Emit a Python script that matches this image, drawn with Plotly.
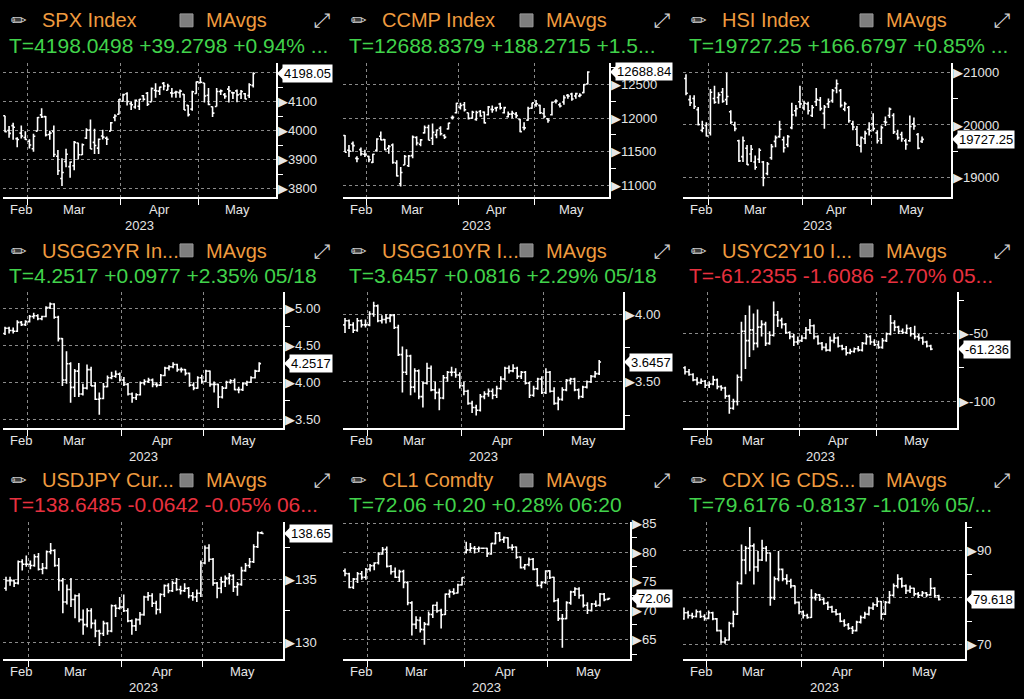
import math
import plotly.graph_objects as go

W, H = 1024, 699
ORANGE = "#EF9B3F"
GREEN = "#41D34B"
RED = "#E8313F"
TXT = "#E6E6E6"
GRID = "#8A8A8A"
FONT = "Arial, Liberation Sans, sans-serif"

month_names = ["Feb", "Mar", "Apr", "May"]
year_text = "2023"

# ---------------- SPX Index ----------------
spx_month_bars = [6, 23, 19, 14]
spx_open = [4052,4001,4018,3973,3992,3977, 3964,3938,3999,4055,4049,3987,3998,3912,3835,3894,3876,3879,3958,3917,3975,4003,3960,3940,3982,3974,3999,4046,4057, 4102,4128,4094,4082,4085,4121,4130,4100,4140,4137,4164,4140,4131,4132,4132,4126,4088,4075,4129, 4166,4165,4123,4083,4084,4136,4125,4144,4132,4138,4127,4128,4122,4157]
spx_high = [4052,4017,4028,3978,4018,3998, 3971,3990,4048,4078,4051,4000,4018,3934,3905,3938,3894,3965,3959,3956,4009,4039,4007,3973,4004,3980,4030,4057,4110, 4128,4133,4100,4108,4110,4124,4134,4150,4164,4152,4169,4163,4148,4138,4143,4127,4089,4138,4170, 4186,4165,4148,4084,4148,4143,4131,4155,4133,4143,4141,4131,4164,4202]
spx_low = [3995,3976,3969,3943,3973,3968, 3939,3928,3999,4044,3980,3969,3909,3847,3809,3874,3838,3864,3901,3916,3972,3937,3920,3920,3970,3951,3999,4033,4056, 4102,4087,4072,4076,4072,4104,4086,4100,4114,4124,4140,4140,4115,4114,4114,4072,4049,4069,4128, 4164,4098,4088,4048,4084,4124,4111,4098,4110,4099,4110,4109,4113,4150]
spx_close = [3997,3991,4012,3970,3982,3970, 3951,3981,4046,4048,3986,3992,3918,3862,3856,3919,3892,3960,3917,3952,4003,3937,3949,3971,3978,3971,4028,4051,4109, 4125,4101,4090,4105,4109,4109,4092,4146,4138,4151,4155,4155,4130,4134,4137,4072,4056,4135,4169, 4168,4120,4091,4061,4136,4138,4119,4138,4131,4124,4136,4110,4159,4198.05]

# ---------------- CCMP Index ----------------
ccmp_month_bars = [6, 23, 19, 14]
ccmp_open = [11740,11520,11620,11400,11530,11460, 11430,11340,11520,11730,11680,11550,11600,11330,11020,11300,11290,11440,11710,11610,11780,11860,11700,11750,11850,11740,11840,12010,12080, 12160,12200,12080,12000,11980,12100,12090,12050,12130,12150,12210,12080,12020,12060,12060,11980,11860,11970,12150, 12200,12190,12070,11990,12050,12250,12200,12240,12340,12360,12330,12330,12380,12510]
ccmp_high = [11750,11600,11650,11430,11560,11530, 11440,11470,11700,11800,11690,11600,11620,11370,11270,11450,11450,11740,11730,11690,11890,11900,11920,11830,11880,11760,11930,12040,12230, 12230,12240,12080,12110,12110,12120,12100,12180,12190,12170,12230,12170,12100,12110,12090,11990,11940,12170,12230, 12270,12200,12150,12000,12250,12280,12230,12340,12360,12380,12380,12370,12510,12700]
ccmp_low = [11490,11420,11500,11340,11440,11420, 11340,11330,11500,11670,11520,11470,11320,11130,10980,11300,11270,11400,11590,11580,11770,11670,11600,11700,11740,11690,11830,11980,12070, 12130,12100,11980,11990,11960,12020,11920,12040,12080,12100,12130,12070,12010,12000,12000,11790,11820,11960,12140, 12170,12060,12000,11930,12040,12220,12160,12200,12290,12260,12290,12310,12370,12500]
ccmp_close = [11492,11507,11590,11395,11467,11456, 11379,11462,11689,11676,11530,11576,11338,11138,11189,11428,11434,11717,11630,11675,11860,11670,11787,11824,11768,11716,11926,12013,12222, 12189,12126,11996,12088,12085,12031,11929,12167,12124,12158,12153,12157,12060,12073,12037,11799,11855,12143,12227, 12213,12081,12025,11967,12236,12256,12180,12306,12329,12285,12366,12344,12500,12688.84]

# ---------------- HSI Index ----------------
hsi_month_bars = [6, 23, 17, 13]
hsi_open = [20880,20480,20500,20290,19900,19990, 19850,20500,20520,20620,20480,20250,20000,19700,19400,19560,19450,19300,19350,19300,19080,19380,19690,19780,19720,19630,19950,20270,20440, 20320,20400,20180,20440,20470,20220,20400,20460,20700,20650,20300,20330,20020,19920,19600,19740,19920, 20020,19850,19740,20060,20180,20180,19830,19820,19700,19700,20020,19820,19690]
hsi_high = [20960,20560,20560,20340,20080,20050, 20680,20740,20620,20700,20990,20280,20060,19720,19780,19620,19620,19420,19560,19320,19300,19640,19800,20080,19780,19810,20420,20380,20740, 20460,20440,20380,20700,20530,20380,20500,20680,20860,20680,20440,20360,20080,19980,19780,19890,20050, 20220,19900,19990,20160,20330,20220,19910,19870,19740,20180,20140,19850,19780]
hsi_low = [20560,20360,20300,19990,19860,19780, 19800,20400,20400,20420,20380,20020,19880,19300,19300,19240,19300,19150,19280,18840,19050,19340,19580,19760,19480,19580,19920,20160,20320, 20280,20200,20150,20360,20270,19930,20320,20420,20600,20330,20260,20040,19900,19600,19480,19640,19800, 19880,19650,19640,19980,20130,19830,19720,19680,19530,19680,19910,19540,19660]
hsi_close = [20600,20420,20350,20010,19940,19790, 20620,20430,20570,20450,20540,20050,19930,19320,19700,19250,19540,19200,19520,19000,19260,19590,19760,19920,19570,19780,20190,20310,20400, 20410,20270,20330,20480,20310,20340,20440,20650,20780,20370,20400,20080,19960,19620,19760,19840,19890, 19930,19700,19950,20050,20300,19870,19760,19740,19630,19970,19980,19560,19727.25]

# ---------------- USGG2YR Index ----------------
us2_month_bars = [6, 23, 20, 14]
us2_open = [4.66,4.73,4.70,4.69,4.81,4.78, 4.82,4.89,4.90,4.86,4.89,5.01,5.06,4.88,4.59,4.03,4.25,3.93,4.15,3.84,3.92,4.17,3.95,3.77,3.78,3.94,4.06,4.08,4.11, 4.03,3.97,3.84,3.79,3.83,3.99,4.01,4.03,3.97,3.96,4.09,4.19,4.21,4.24,4.17,4.17,4.12,3.96,3.92,4.06, 4.01,4.15,3.97,3.97,3.80,3.92,4.00,4.02,3.90,3.90,3.98,4.00,4.06,4.15]
us2_high = [4.75,4.75,4.74,4.84,4.83,4.84, 4.91,4.94,4.92,4.90,5.03,5.08,5.07,4.90,4.60,4.42,4.27,4.18,4.26,3.98,4.24,4.21,4.00,3.86,3.99,4.09,4.14,4.16,4.13, 4.07,3.99,3.86,3.85,4.01,4.04,4.06,4.05,4.00,4.11,4.21,4.23,4.27,4.25,4.20,4.18,4.13,4.00,4.08,4.10, 4.17,4.16,4.01,3.98,3.95,4.02,4.04,4.05,3.94,4.00,4.02,4.08,4.17,4.27]
us2_low = [4.64,4.66,4.66,4.68,4.76,4.76, 4.81,4.86,4.84,4.84,4.88,4.99,4.86,4.55,3.95,3.98,3.72,3.80,3.80,3.82,3.90,3.95,3.76,3.56,3.77,3.93,4.04,4.06,4.01, 3.95,3.82,3.72,3.76,3.82,3.96,3.99,3.93,3.93,3.95,4.08,4.16,4.19,4.14,4.13,4.09,3.94,3.89,3.91,3.98, 4.00,3.94,3.86,3.65,3.78,3.91,3.98,3.89,3.85,3.88,3.95,3.99,4.05,4.14]
us2_close = [4.73,4.70,4.69,4.81,4.78,4.82, 4.89,4.90,4.86,4.89,5.01,5.06,4.88,4.59,4.03,4.25,3.93,4.15,3.84,3.92,4.17,3.95,3.77,3.78,3.94,4.06,4.08,4.11,4.03, 3.97,3.84,3.79,3.83,3.99,4.01,4.03,3.97,3.96,4.09,4.19,4.21,4.24,4.17,4.17,4.12,3.96,3.92,4.06,4.01, 4.15,3.97,3.97,3.80,3.92,4.00,4.02,3.90,3.90,3.98,4.00,4.06,4.15,4.2517]

# ---------------- USGG10YR Index ----------------
us10_month_bars = [6, 23, 20, 14]
us10_open = [3.92,3.95,3.92,3.88,3.95,3.92, 3.92,4.00,4.06,3.95,3.96,3.97,3.99,3.90,3.70,3.57,3.69,3.46,3.58,3.39,3.49,3.60,3.44,3.42,3.38,3.53,3.57,3.57,3.55, 3.47,3.43,3.34,3.31,3.29,3.39,3.41,3.43,3.40,3.45,3.52,3.60,3.58,3.60,3.54,3.57,3.49,3.40,3.45,3.52, 3.42,3.57,3.43,3.34,3.37,3.44,3.51,3.52,3.44,3.39,3.46,3.50,3.54,3.56]
us10_high = [3.97,3.96,3.94,3.97,3.96,3.96, 4.02,4.09,4.07,3.99,4.00,4.00,4.00,3.92,3.76,3.74,3.70,3.60,3.59,3.50,3.64,3.62,3.50,3.45,3.55,3.58,3.61,3.60,3.57, 3.50,3.44,3.36,3.33,3.41,3.43,3.45,3.45,3.47,3.54,3.61,3.62,3.63,3.61,3.58,3.58,3.50,3.47,3.53,3.54, 3.60,3.58,3.46,3.39,3.46,3.52,3.53,3.53,3.45,3.47,3.51,3.55,3.58,3.66]
us10_low = [3.86,3.89,3.86,3.87,3.90,3.90, 3.91,3.98,3.94,3.93,3.93,3.94,3.89,3.69,3.42,3.55,3.40,3.42,3.37,3.31,3.48,3.43,3.37,3.29,3.37,3.50,3.54,3.53,3.45, 3.40,3.33,3.27,3.25,3.28,3.37,3.39,3.37,3.38,3.44,3.51,3.56,3.57,3.52,3.52,3.48,3.38,3.39,3.44,3.41, 3.41,3.42,3.33,3.29,3.36,3.43,3.48,3.43,3.37,3.38,3.45,3.49,3.53,3.55]
us10_close = [3.95,3.92,3.88,3.95,3.92,3.92, 4.00,4.06,3.95,3.96,3.97,3.99,3.90,3.70,3.57,3.69,3.46,3.58,3.39,3.49,3.60,3.44,3.42,3.38,3.53,3.57,3.57,3.55,3.47, 3.43,3.34,3.31,3.29,3.39,3.41,3.43,3.40,3.45,3.52,3.60,3.58,3.60,3.54,3.57,3.49,3.40,3.45,3.52,3.42, 3.57,3.43,3.34,3.37,3.44,3.51,3.52,3.44,3.39,3.46,3.50,3.54,3.56,3.6457]

# ---------------- USYC2Y10 Index ----------------
yc_month_bars = [6, 23, 19, 14]
yc_open = [-75,-78,-80,-84,-86,-85, -88,-87,-84,-89,-90,-96,-105,-100,-82,-48,-55,-47,-57,-45,-43,-57,-51,-36,-40,-43,-49,-52,-56, -55,-53,-47,-44,-52,-57,-60,-62,-55,-53,-59,-61,-64,-63,-61,-62,-57,-52,-56, -58,-60,-55,-50,-42,-45,-48,-49,-46,-50,-52,-53,-56,-59]
yc_high = [-74,-76,-79,-82,-83,-84, -85,-81,-83,-88,-89,-95,-98,-80,-41,-36,-29,-35,-32,-40,-41,-48,-26,-33,-38,-42,-48,-50,-52, -51,-45,-39,-43,-51,-56,-57,-52,-50,-52,-58,-59,-61,-60,-59,-56,-50,-51,-54, -55,-53,-49,-36,-40,-44,-46,-43,-45,-44,-50,-52,-55,-58]
yc_low = [-80,-81,-85,-88,-87,-90, -90,-88,-91,-92,-98,-109,-106,-103,-85,-76,-67,-62,-60,-52,-59,-58,-52,-45,-46,-50,-54,-59,-58, -56,-54,-50,-54,-58,-62,-63,-63,-57,-60,-62,-66,-65,-64,-63,-63,-58,-58,-59, -61,-61,-56,-51,-48,-50,-50,-50,-52,-54,-55,-58,-60,-62]
yc_close = [-78,-80,-84,-86,-85,-88, -87,-84,-89,-90,-96,-105,-100,-82,-48,-55,-47,-57,-45,-43,-57,-51,-36,-40,-43,-49,-52,-56,-55, -53,-47,-44,-52,-57,-60,-62,-55,-53,-59,-61,-64,-63,-61,-62,-57,-52,-56,-58, -60,-55,-50,-42,-45,-48,-49,-46,-50,-52,-53,-56,-59,-61.2355]

# ---------------- USDJPY Curncy ----------------
jpy_month_bars = [6, 23, 20, 15]
jpy_open = [134.3,134.9,134.9,134.7,136.4,136.2, 136.2,136.1,136.8,135.8,135.9,137.2,137.3,136.1,134.9,133.2,134.2,133.4,133.7,131.8,131.4,132.5,131.5,130.9,130.7,131.5,130.9,132.9,132.7, 132.8,132.5,131.7,131.3,131.8,132.2,133.6,133.7,133.1,132.6,133.8,134.5,134.1,134.7,134.2,134.1,134.3,133.7,133.6,133.9, 136.3,137.5,136.6,134.7,134.3,134.8,135.1,135.3,134.4,134.6,135.7,136.1,136.4,137.6,138.7]
jpy_high = [135.2,135.2,135.0,136.5,136.6,136.9, 136.5,137.0,137.1,136.3,137.3,137.9,137.4,136.7,135.1,134.6,135.1,133.8,133.9,132.6,132.7,132.7,131.8,131.0,131.7,131.6,133.0,133.0,133.6, 133.8,132.7,131.8,131.9,132.4,133.7,134.0,133.9,133.3,133.9,134.6,134.7,134.9,135.1,134.5,134.7,134.4,134.0,134.2,136.5, 137.7,137.8,136.7,134.8,135.2,135.3,135.5,135.4,134.8,136.0,136.3,136.7,137.8,138.8,138.8]
jpy_low = [134.1,134.5,134.4,134.6,135.7,136.0, 135.8,136.0,135.7,135.4,135.8,137.0,136.0,134.1,132.3,133.0,132.8,131.9,131.6,130.6,131.2,131.1,130.4,129.7,130.5,130.6,130.8,132.0,132.6, 132.4,131.6,130.6,130.9,131.4,132.1,133.3,132.8,132.2,132.3,133.6,133.9,134.0,134.1,133.8,134.0,133.5,133.3,133.2,133.6, 136.2,136.4,134.5,133.5,133.9,134.4,134.6,134.0,133.7,134.5,135.6,135.9,136.3,137.5,138.6]
jpy_close = [134.9,134.9,134.7,136.4,136.2,136.2, 136.1,136.8,135.8,135.9,137.2,137.3,136.1,134.9,133.2,134.2,133.4,133.7,131.8,131.4,132.5,131.5,130.9,130.7,131.5,130.9,132.9,132.7,132.8, 132.5,131.7,131.3,131.8,132.2,133.6,133.7,133.1,132.6,133.8,134.5,134.1,134.7,134.2,134.1,134.3,133.7,133.6,133.9,136.3, 137.5,136.6,134.7,134.3,134.8,135.1,135.3,134.4,134.6,135.7,136.1,136.4,137.6,138.7,138.6485]

# ---------------- CL1 Comdty ----------------
cl_month_bars = [6, 23, 20, 15]
cl_open = [76.8,76.3,74.0,75.4,76.3,75.7, 77.1,77.7,78.2,79.7,80.5,77.6,76.7,75.7,76.7,74.8,71.3,67.6,68.3,66.7,67.6,69.3,70.9,70.0,69.3,72.8,73.2,73.0,74.4, 80.0,80.4,80.7,80.6,80.7,80.7,79.7,81.5,83.3,82.2,82.5,80.8,80.9,79.2,77.4,77.9,78.8,77.1,74.3,74.8, 76.8,75.7,71.7,68.6,68.6,71.3,73.2,73.7,72.6,70.9,70.0,71.1,70.9,72.8,71.9]
cl_high = [77.2,76.5,75.6,76.6,76.8,77.3, 78.0,78.3,80.0,80.9,81.0,77.8,77.4,77.0,77.0,75.0,71.6,69.0,68.9,68.0,69.8,71.0,71.5,70.3,72.9,73.6,73.8,74.6,75.7, 81.8,81.6,81.1,81.0,80.8,80.8,81.6,83.5,83.5,82.7,82.6,81.4,81.0,79.3,78.0,79.1,79.0,77.3,75.0,76.9, 76.9,75.8,72.1,69.4,71.6,73.4,74.0,74.0,72.8,71.4,71.3,71.7,73.0,73.0,72.2]
cl_low = [75.9,73.8,73.7,74.7,75.3,75.3, 76.7,76.9,77.9,79.6,77.4,76.2,75.6,74.9,73.8,70.9,65.7,66.8,66.2,64.1,67.4,68.7,69.6,66.9,69.2,72.2,72.7,72.9,74.3, 79.8,80.1,79.8,80.0,80.6,79.2,79.6,81.4,81.8,81.6,80.6,80.3,78.9,77.2,77.0,77.6,76.9,74.1,73.8,74.6, 75.4,71.4,68.2,63.6,68.5,71.0,72.5,72.0,70.5,69.4,69.8,70.6,70.7,71.6,71.8]
cl_close = [76.36,73.95,75.39,76.32,75.68,77.05, 77.69,78.16,79.68,80.46,77.58,76.66,75.72,76.68,74.80,71.33,67.61,68.35,66.74,67.64,69.33,70.90,69.96,69.26,72.81,73.20,72.97,74.37,75.67, 80.42,80.71,80.61,80.70,80.70,79.74,81.53,83.26,82.16,82.52,80.83,80.86,79.16,77.37,77.87,78.76,77.07,74.30,74.76,76.78, 75.66,71.66,68.60,68.56,71.34,73.16,73.71,72.56,70.87,70.04,71.11,70.86,72.83,71.86,72.06]

# ---------------- CDX IG CDSI ----------------
cdx_month_bars = [6, 23, 20, 14]
cdx_open = [75.5,76.8,76.2,76.0,77.0,76.0, 75.6,76.8,75.5,73.0,70.6,71.0,74.5,76.5,83.0,88.0,90.5,91.0,86.5,88.0,90.5,89.5,80.0,84.0,86.0,84.0,83.5,82.5,79.0, 77.0,76.2,75.8,80.0,80.6,79.6,78.8,78.0,77.0,76.5,75.0,74.2,73.5,73.0,74.8,75.8,76.5,77.8,78.5,79.2, 76.5,79.0,80.5,82.5,84.0,82.5,81.5,82.0,80.8,80.5,81.0,80.6,82.0,80.4]
cdx_high = [77.9,77.2,76.8,77.5,77.3,76.5, 77.3,77.0,75.7,73.2,71.6,74.9,77.2,83.5,91.3,91.0,95.0,91.5,89.9,92.3,91.0,89.6,84.5,89.9,86.2,85.0,84.0,82.6,79.2, 77.3,76.6,81.8,81.0,80.8,80.0,79.2,78.3,77.6,76.8,75.4,74.6,74.0,75.1,76.2,77.0,78.1,79.0,80.0,79.3, 79.3,81.4,83.0,85.0,84.3,82.8,82.6,82.1,81.2,81.4,81.2,84.2,82.2,80.6]
cdx_low = [75.3,75.6,75.5,75.8,75.7,75.1, 75.4,75.2,72.8,70.2,70.2,70.9,73.7,76.3,82.8,85.0,85.6,82.8,85.5,87.8,87.7,78.3,79.5,83.5,83.5,82.8,82.0,78.6,76.5, 75.6,75.5,75.7,79.4,79.3,78.5,77.4,76.8,76.2,74.8,73.8,73.2,72.3,72.8,74.5,75.5,76.2,77.4,78.0,75.3, 76.3,78.7,80.2,82.0,82.1,80.8,81.0,80.3,80.0,80.2,80.1,80.4,80.0,79.4]
cdx_close = [76.8,76.2,76.0,77.0,76.0,75.6, 76.8,75.5,73.0,70.6,71.0,74.5,76.5,83.0,88.0,90.5,91.0,86.5,88.0,90.5,89.5,80.0,84.0,86.0,84.0,83.5,82.5,79.0,77.0, 76.2,75.8,80.0,80.6,79.6,78.8,78.0,77.0,76.5,75.0,74.2,73.5,73.0,74.8,75.8,76.5,77.8,78.5,79.2,76.5, 79.0,80.5,82.5,84.0,82.5,81.5,82.0,80.8,80.5,81.0,80.6,82.0,80.4,79.6176]

# ---------------- panel definitions (text + layout) ----------------
panels = [
    dict(title="SPX Index", quote="T=4198.0498 +39.2798 +0.94% ...", qc=GREEN,
         o=spx_open, h=spx_high, l=spx_low, c=spx_close, mb=spx_month_bars, last="4198.05",
         yr=(3770, 4236), yt=[3800, 3900, 4000, 4100, 4200], yhide=[4200], dec=0, minor=50,
         col=0, row=0, x1=276, fb=5, ppb=4.07),
    dict(title="CCMP Index", quote="T=12688.8379 +188.2715 +1.5...", qc=GREEN,
         o=ccmp_open, h=ccmp_high, l=ccmp_low, c=ccmp_close, mb=ccmp_month_bars, last="12688.84",
         yr=(10818, 12830), yt=[11000, 11500, 12000, 12500], yhide=[], dec=0, minor=250,
         col=1, row=0, x1=609, fb=345, ppb=3.98),
    dict(title="HSI Index", quote="T=19727.25 +166.6797 +0.85% ...", qc=GREEN,
         o=hsi_open, h=hsi_high, l=hsi_low, c=hsi_close, mb=hsi_month_bars, last="19727.25",
         yr=(18630, 21182), yt=[19000, 20000, 21000], yhide=[], dec=0, minor=500,
         col=2, row=0, x1=951, fb=686, ppb=4.07),
    dict(title="USGG2YR In...", quote="T=4.2517 +0.0977 +2.35% 05/18", qc=GREEN,
         o=us2_open, h=us2_high, l=us2_low, c=us2_close, mb=us2_month_bars, last="4.2517",
         yr=(3.375, 5.228), yt=[3.5, 4.0, 4.5, 5.0], yhide=[], dec=2, minor=0.25,
         col=0, row=1, x1=283, fb=5, ppb=4.1),
    dict(title="USGG10YR I...", quote="T=3.6457 +0.0816 +2.29% 05/18", qc=GREEN,
         o=us10_open, h=us10_high, l=us10_low, c=us10_close, mb=us10_month_bars, last="3.6457",
         yr=(3.156, 4.166), yt=[3.5, 4.0], yhide=[], dec=2, minor=0.25,
         col=1, row=1, x1=623, fb=345, ppb=4.1),
    dict(title="USYC2Y10 I...", quote="T=-61.2355 -1.6086 -2.70% 05...", qc=RED,
         o=yc_open, h=yc_high, l=yc_low, c=yc_close, mb=yc_month_bars, last="-61.236",
         yr=(-119.8, -18.7), yt=[-100, -50], yhide=[], dec=0, minor=25,
         col=2, row=1, x1=957, fb=685, ppb=4.03),
    dict(title="USDJPY Cur...", quote="T=138.6485 -0.0642 -0.05% 06...", qc=RED,
         o=jpy_open, h=jpy_high, l=jpy_low, c=jpy_close, mb=jpy_month_bars, last="138.65",
         yr=(128.64, 139.6), yt=[130, 135], yhide=[], dec=0, minor=2.5,
         col=0, row=2, x1=283, fb=6, ppb=4.06),
    dict(title="CL1 Comdty", quote="T=72.06 +0.20 +0.28% 06:20", qc=GREEN,
         o=cl_open, h=cl_high, l=cl_low, c=cl_close, mb=cl_month_bars, last="72.06",
         yr=(61.59, 85.29), yt=[65, 70, 75, 80, 85], yhide=[], dec=0, minor=2.5,
         col=1, row=2, x1=630, fb=345, ppb=4.18),
    dict(title="CDX IG CDS...", quote="T=79.6176 -0.8137 -1.01% 05/...", qc=GREEN,
         o=cdx_open, h=cdx_high, l=cdx_low, c=cdx_close, mb=cdx_month_bars, last="79.618",
         yr=(66.9, 96.17), yt=[70, 80, 90], yhide=[80], dec=0, minor=5,
         col=2, row=2, x1=965, fb=684, ppb=4.11),
]

COL_LEFT = [0, 340, 680]
ROW_PLOT = [(57, 193), (288, 426), (520, 659)]
ROW_TITLE_Y = [14.5, 247, 478]
ROW_QUOTE_Y = [40, 272, 503]
ROW_SQUARE = [(8, 21), (240, 253), (472, 485)]


def px(x):
    return x / W


def py(y):
    return 1 - y / H


fig = go.Figure()
layout = dict(
    width=W, height=H, autosize=False,
    margin=dict(l=0, r=0, t=0, b=0),
    paper_bgcolor="black", plot_bgcolor="black",
    showlegend=False, font=dict(family=FONT, color=TXT),
)
annotations = []
shapes = []

for i, p in enumerate(panels):
    n = i + 1
    xa = "x" if n == 1 else f"x{n}"
    ya = "y" if n == 1 else f"y{n}"
    xkey = "xaxis" if n == 1 else f"xaxis{n}"
    ykey = "yaxis" if n == 1 else f"yaxis{n}"
    assert len(p["o"]) == len(p["h"]) == len(p["l"]) == len(p["c"]) == sum(p["mb"]), p["title"]
    nb = len(p["c"])
    idx = list(range(nb))

    fig.add_trace(go.Ohlc(
        x=idx, open=p["o"], high=p["h"], low=p["l"], close=p["c"],
        increasing=dict(line=dict(color="white", width=1.6)),
        decreasing=dict(line=dict(color="white", width=1.6)),
        tickwidth=0.45, xaxis=xa, yaxis=ya, hoverinfo="skip", showlegend=False,
    ))

    cl = COL_LEFT[p["col"]]
    ytop, ybot = ROW_PLOT[p["row"]]
    x0 = cl + 3
    x1 = p["x1"]
    r0 = (x0 - p["fb"]) / p["ppb"]
    r1 = (x1 - p["fb"]) / p["ppb"]

    # month boundaries
    cum = 0
    bounds = []
    for k in p["mb"][:-1]:
        cum += k
        bounds.append(cum - 0.5)
    segs = [r0] + bounds + [r1]

    layout[xkey] = dict(
        domain=[px(x0), px(x1)], range=[r0, r1], anchor=ya,
        showline=True, linecolor="white", linewidth=1.5,
        tickmode="array", tickvals=bounds, ticktext=[""] * len(bounds),
        ticks="outside", ticklen=6, tickcolor="white", tickwidth=1,
        showgrid=True, gridcolor=GRID, griddash="3px,3px", gridwidth=1,
        zeroline=False, rangeslider=dict(visible=False), fixedrange=True,
    )

    fmt = (lambda v: f"{v:.2f}") if p["dec"] == 2 else (lambda v: f"{v:.0f}")
    ticktext = []
    for v in p["yt"]:
        if v in p["yhide"]:
            ticktext.append("")
        else:
            ticktext.append('<span style="font-size:13px">\u25B6</span>' + fmt(v))
    d = p["minor"]
    mvals = []
    k0 = math.ceil(p["yr"][0] / d)
    k1 = math.floor(p["yr"][1] / d)
    for k in range(k0, k1 + 1):
        v = round(k * d, 4)
        if all(abs(v - t) > 1e-9 for t in p["yt"]):
            mvals.append(v)

    layout[ykey] = dict(
        domain=[py(ybot), py(ytop)], range=list(p["yr"]), anchor=xa, side="right",
        showline=True, linecolor="white", linewidth=1.5,
        tickmode="array", tickvals=p["yt"], ticktext=ticktext, ticks="",
        ticklabelstandoff=-2,
        tickfont=dict(size=13, color=TXT, family=FONT),
        showgrid=True, gridcolor=GRID, griddash="3px,3px", gridwidth=1,
        zeroline=False, fixedrange=True,
        minor=dict(tickvals=mvals, ticks="outside", ticklen=5, tickcolor="white",
                   tickwidth=1, showgrid=False),
    )

    # month labels (centred in their visible segments)
    for m, name in enumerate(month_names):
        a, b = segs[m], segs[m + 1]
        cx = (a + b) / 2
        if m == 0:
            cx = max(cx, r0 + 18 / p["ppb"])
        annotations.append(dict(
            x=cx, xref=xa, y=py(ybot + 12.5), yref="paper", text=name, showarrow=False,
            font=dict(size=13, color=TXT, family=FONT), xanchor="center", yanchor="middle",
        ))
    annotations.append(dict(
        x=(r0 + r1) / 2, xref=xa, y=py(ybot + 28.5), yref="paper", text=year_text,
        showarrow=False, font=dict(size=13, color=TXT, family=FONT),
        xanchor="center", yanchor="middle",
    ))

    # last value callout
    annotations.append(dict(
        x=px(x1 + 6), xref="paper", y=p["c"][-1], yref=ya, text=p["last"],
        showarrow=False, font=dict(size=13, color="black", family=FONT),
        bgcolor="white", borderpad=1, xanchor="left", yanchor="middle",
    ))
    shapes.append(dict(
        type="path", xref="paper", yref=ya, xsizemode="pixel", ysizemode="pixel",
        xanchor=px(x1), yanchor=p["c"][-1], path="M 1,0 L 7,6 L 7,-6 Z",
        fillcolor="white", line=dict(width=0),
    ))

    # header texts
    ty = ROW_TITLE_Y[p["row"]]
    qy = ROW_QUOTE_Y[p["row"]]
    annotations.append(dict(
        x=px(cl + 9), xref="paper", y=py(ty), yref="paper", text="\u270F", showarrow=False,
        font=dict(size=19, color="#CFCFCF", family="DejaVu Sans"), xanchor="left", yanchor="middle",
    ))
    annotations.append(dict(
        x=px(cl + 40), xref="paper", y=py(ty), yref="paper", text=p["title"], showarrow=False,
        font=dict(size=20, color=ORANGE, family=FONT), xanchor="left", yanchor="middle",
    ))
    sq0, sq1 = ROW_SQUARE[p["row"]]
    shapes.append(dict(
        type="rect", xref="paper", yref="paper", x0=px(cl + 180), x1=px(cl + 193),
        y0=py(sq1), y1=py(sq0), fillcolor="#7E7E7E", line=dict(color="#9A9A9A", width=1),
    ))
    annotations.append(dict(
        x=px(cl + 204), xref="paper", y=py(ty), yref="paper", text="MAvgs", showarrow=False,
        font=dict(size=20, color=ORANGE, family=FONT), xanchor="left", yanchor="middle",
    ))
    annotations.append(dict(
        x=px(cl + 322), xref="paper", y=py(ty), yref="paper", text="\u2922", showarrow=False,
        font=dict(size=20, color="#CFCFCF", family="DejaVu Sans"), xanchor="center", yanchor="middle",
    ))
    annotations.append(dict(
        x=px(cl + 7), xref="paper", y=py(qy), yref="paper", text=p["quote"], showarrow=False,
        font=dict(size=21, color=p["qc"], family=FONT), xanchor="left", yanchor="middle",
    ))

layout["annotations"] = annotations
layout["shapes"] = shapes
fig.update_layout(**layout)

fig.write_html(
    "out.html",
    config={"displayModeBar": False, "staticPlot": True},
    post_script="document.body.style.margin='0';document.body.style.background='black';",
)
